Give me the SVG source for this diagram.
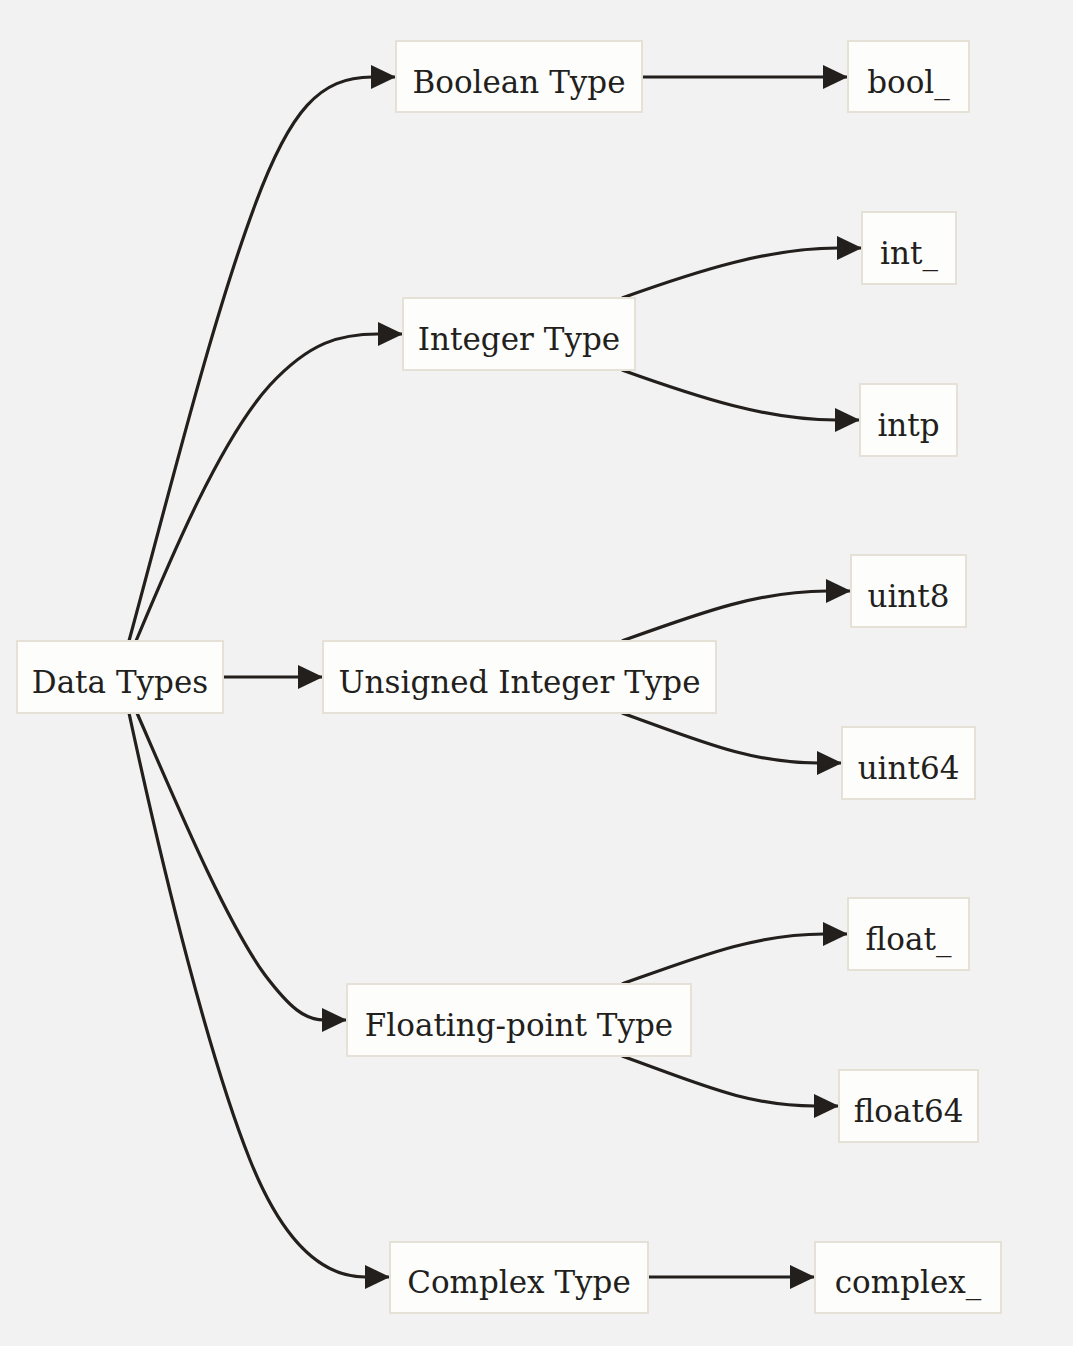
<svg xmlns="http://www.w3.org/2000/svg" width="1073" height="1346" viewBox="0 0 1073 1346">
<style>
.node rect{fill:#fdfdfc;stroke:#e6e1d7;stroke-width:2}
.node text{font-family:"DejaVu Serif","Liberation Serif",serif;font-size:31px;fill:#221f1c;text-anchor:middle}
.edge{fill:none;stroke:#221f1c;stroke-width:3.2;marker-end:url(#arrow)}
</style>
<defs>
<marker id="arrow" markerUnits="userSpaceOnUse" markerWidth="27" markerHeight="26" refX="25" refY="12" orient="auto">
<path d="M0,0 L25,12 L0,24 z" fill="#221f1c"/>
</marker>
</defs>
<rect width="1073" height="1346" fill="#f2f2f2"/>
<g id="connectors">
<path class="edge" d="M223,677 L323,677"/>
<path class="edge" d="M129,641 C170,490 212,320 255,205 C290,110 320,77 372,77 L396,77"/>
<path class="edge" d="M136,641 C170,560 220,440 270,385 C310,342 340,334 378,334 L403,334"/>
<path class="edge" d="M137,713 C175,800 225,920 265,975 C290,1008 305,1020 324,1020 L347,1020"/>
<path class="edge" d="M129,713 C165,880 210,1060 250,1160 C282,1240 320,1277 365,1277 L390,1277"/>
<path class="edge" d="M642,77 L848,77"/>
<path class="edge" d="M648,1277 L815,1277"/>
<path class="edge" d="M622,298 C700,270 770,248 838,248 L862,248"/>
<path class="edge" d="M622,370 C700,398 768,420 836,420 L860,420"/>
<path class="edge" d="M622,641 C700,613 759,591 827,591 L851,591"/>
<path class="edge" d="M622,713 C700,741 750,763 818,763 L842,763"/>
<path class="edge" d="M622,984 C700,956 756,934 824,934 L848,934"/>
<path class="edge" d="M622,1056 C700,1084 747,1106 815,1106 L839,1106"/>
</g>
<g id="n-datatypes" class="node"><rect x="17" y="641" width="206" height="72"/><text x="120" y="693">Data Types</text></g>
<g id="n-boolean" class="node"><rect x="396" y="41" width="246" height="71"/><text x="519" y="93">Boolean Type</text></g>
<g id="n-integer" class="node"><rect x="403" y="298" width="232" height="72"/><text x="519" y="350">Integer Type</text></g>
<g id="n-unsigned" class="node"><rect x="323" y="641" width="393" height="72"/><text x="519.5" y="693">Unsigned Integer Type</text></g>
<g id="n-floating" class="node"><rect x="347" y="984" width="344" height="72"/><text x="519" y="1036">Floating-point Type</text></g>
<g id="n-complex" class="node"><rect x="390" y="1242" width="258" height="71"/><text x="519" y="1293">Complex Type</text></g>
<g id="n-bool" class="node"><rect x="848" y="41" width="121" height="71"/><text x="908.5" y="93">bool_</text></g>
<g id="n-int" class="node"><rect x="862" y="212" width="94" height="72"/><text x="909" y="264">int_</text></g>
<g id="n-intp" class="node"><rect x="860" y="384" width="97" height="72"/><text x="908.5" y="436">intp</text></g>
<g id="n-uint8" class="node"><rect x="851" y="555" width="115" height="72"/><text x="908.5" y="607">uint8</text></g>
<g id="n-uint64" class="node"><rect x="842" y="727" width="133" height="72"/><text x="908.5" y="779">uint64</text></g>
<g id="n-float" class="node"><rect x="848" y="898" width="121" height="72"/><text x="908.5" y="950">float_</text></g>
<g id="n-float64" class="node"><rect x="839" y="1070" width="139" height="72"/><text x="908.5" y="1122">float64</text></g>
<g id="n-complex_" class="node"><rect x="815" y="1242" width="186" height="71"/><text x="908" y="1293">complex_</text></g>
</svg>
